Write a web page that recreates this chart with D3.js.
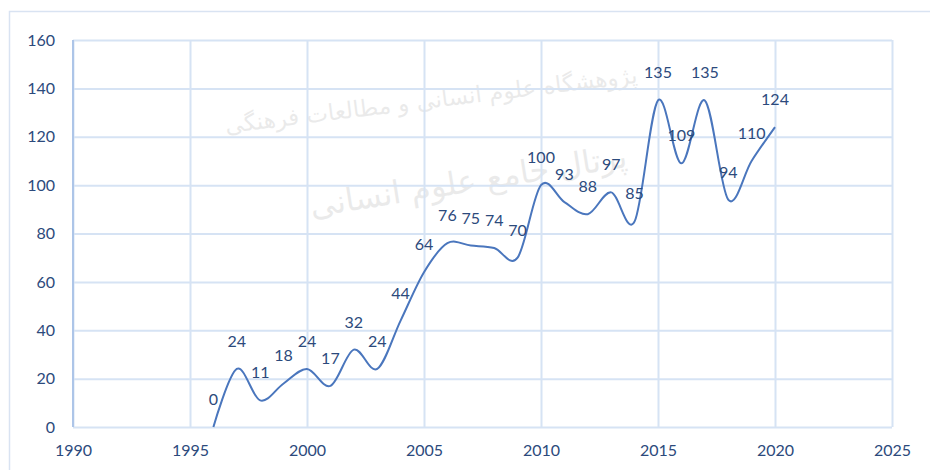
<!DOCTYPE html>
<html>
<head>
<meta charset="utf-8">
<script src="https://cdn.jsdelivr.net/npm/d3@7"></script>
<style>
  body { margin: 0; background: #fff; }
  svg { display: block; }
  .tick text { font-family: Lato, "Open Sans", sans-serif; font-size: 16px; fill: #2c4a7c; }
  .grid line { stroke: #d6e3f4; stroke-width: 2; }
  .label { font-family: Lato, "Open Sans", sans-serif; font-size: 16px; fill: #2c4a7c; text-anchor: middle; }
</style>
</head>
<body>
<div id="chart"></div>
<script>
// chart size
var w = 930;
var h = 470;

// data
var years = [1996, 1997, 1998, 1999, 2000, 2001, 2002, 2003, 2004, 2005, 2006, 2007, 2008,
             2009, 2010, 2011, 2012, 2013, 2014, 2015, 2016, 2017, 2018, 2019, 2020];
var counts = [0, 24, 11, 18, 24, 17, 32, 24, 44, 64, 76, 75, 74,
              70, 100, 93, 88, 97, 85, 135, 109, 135, 94, 110, 124];
var xTicks = [1990, 1995, 2000, 2005, 2010, 2015, 2020, 2025];
var yTicks = [0, 20, 40, 60, 80, 100, 120, 140, 160];

var data = years.map(function(d, i) { return { year: d, value: counts[i] }; });

var svg = d3.select("#chart")
  .append("svg")
  .attr("width", w)
  .attr("height", h);

// outer chart border
svg.append("rect")
  .attr("x", 9.5)
  .attr("y", 11.5)
  .attr("width", 940)
  .attr("height", 480)
  .attr("fill", "none")
  .attr("stroke", "#d9e3f2")
  .attr("stroke-width", 1.5);

// faint watermark behind the plot
var wm = svg.append("g").attr("fill", "#000").attr("opacity", 0.08)
  .style("font-family", "'DejaVu Sans', sans-serif");
wm.append("text")
  .attr("transform", "translate(432,108) rotate(-7)")
  .attr("text-anchor", "middle")
  .attr("font-size", 23)
  .text("پژوهشگاه علوم انسانی و مطالعات فرهنگی");
wm.append("text")
  .attr("transform", "translate(470,192) rotate(-9)")
  .attr("text-anchor", "middle")
  .attr("font-size", 32)
  .text("پرتال جامع علوم انسانی");

var xScale = d3.scaleLinear().domain([1990, 2025]).range([73, 892]);
var yScale = d3.scaleLinear().domain([0, 160]).range([427, 40]);

// gridlines
svg.append("g")
  .attr("class", "grid")
  .attr("transform", "translate(0,427)")
  .call(d3.axisBottom(xScale).tickValues(xTicks).tickSize(-387).tickFormat(""))
  .call(function(g) { g.select(".domain").remove(); });

svg.append("g")
  .attr("class", "grid")
  .attr("transform", "translate(73,0)")
  .call(d3.axisLeft(yScale).tickValues(yTicks).tickSize(-819).tickFormat(""))
  .call(function(g) { g.select(".domain").remove(); });

// left axis line a bit darker
svg.append("line")
  .attr("x1", 73).attr("x2", 73)
  .attr("y1", yScale(160)).attr("y2", yScale(0))
  .attr("stroke", "#adc5e8")
  .attr("stroke-width", 2);

// axis labels
svg.append("g")
  .attr("transform", "translate(0,427)")
  .call(d3.axisBottom(xScale).tickValues(xTicks).tickSize(0).tickPadding(18).tickFormat(d3.format("d")))
  .call(function(g) { g.select(".domain").remove(); });

svg.append("g")
  .attr("transform", "translate(73,0)")
  .call(d3.axisLeft(yScale).tickValues(yTicks).tickSize(0).tickPadding(18))
  .call(function(g) { g.select(".domain").remove(); });

// smoothed line
var line = d3.line()
  .x(function(d) { return xScale(d.year); })
  .y(function(d) { return yScale(d.value); })
  .curve(d3.curveCardinal.tension(0));

svg.append("path")
  .datum(data)
  .attr("fill", "none")
  .attr("stroke", "#4a76bd")
  .attr("stroke-width", 2)
  .attr("d", line);

// value labels above each point
svg.selectAll("text.label")
  .data(data)
  .enter()
  .append("text")
  .attr("class", "label")
  .attr("x", function(d) { return xScale(d.year); })
  .attr("y", function(d) { return yScale(d.value) - 22; })
  .text(function(d) { return d.value; });
</script>
</body>
</html>
